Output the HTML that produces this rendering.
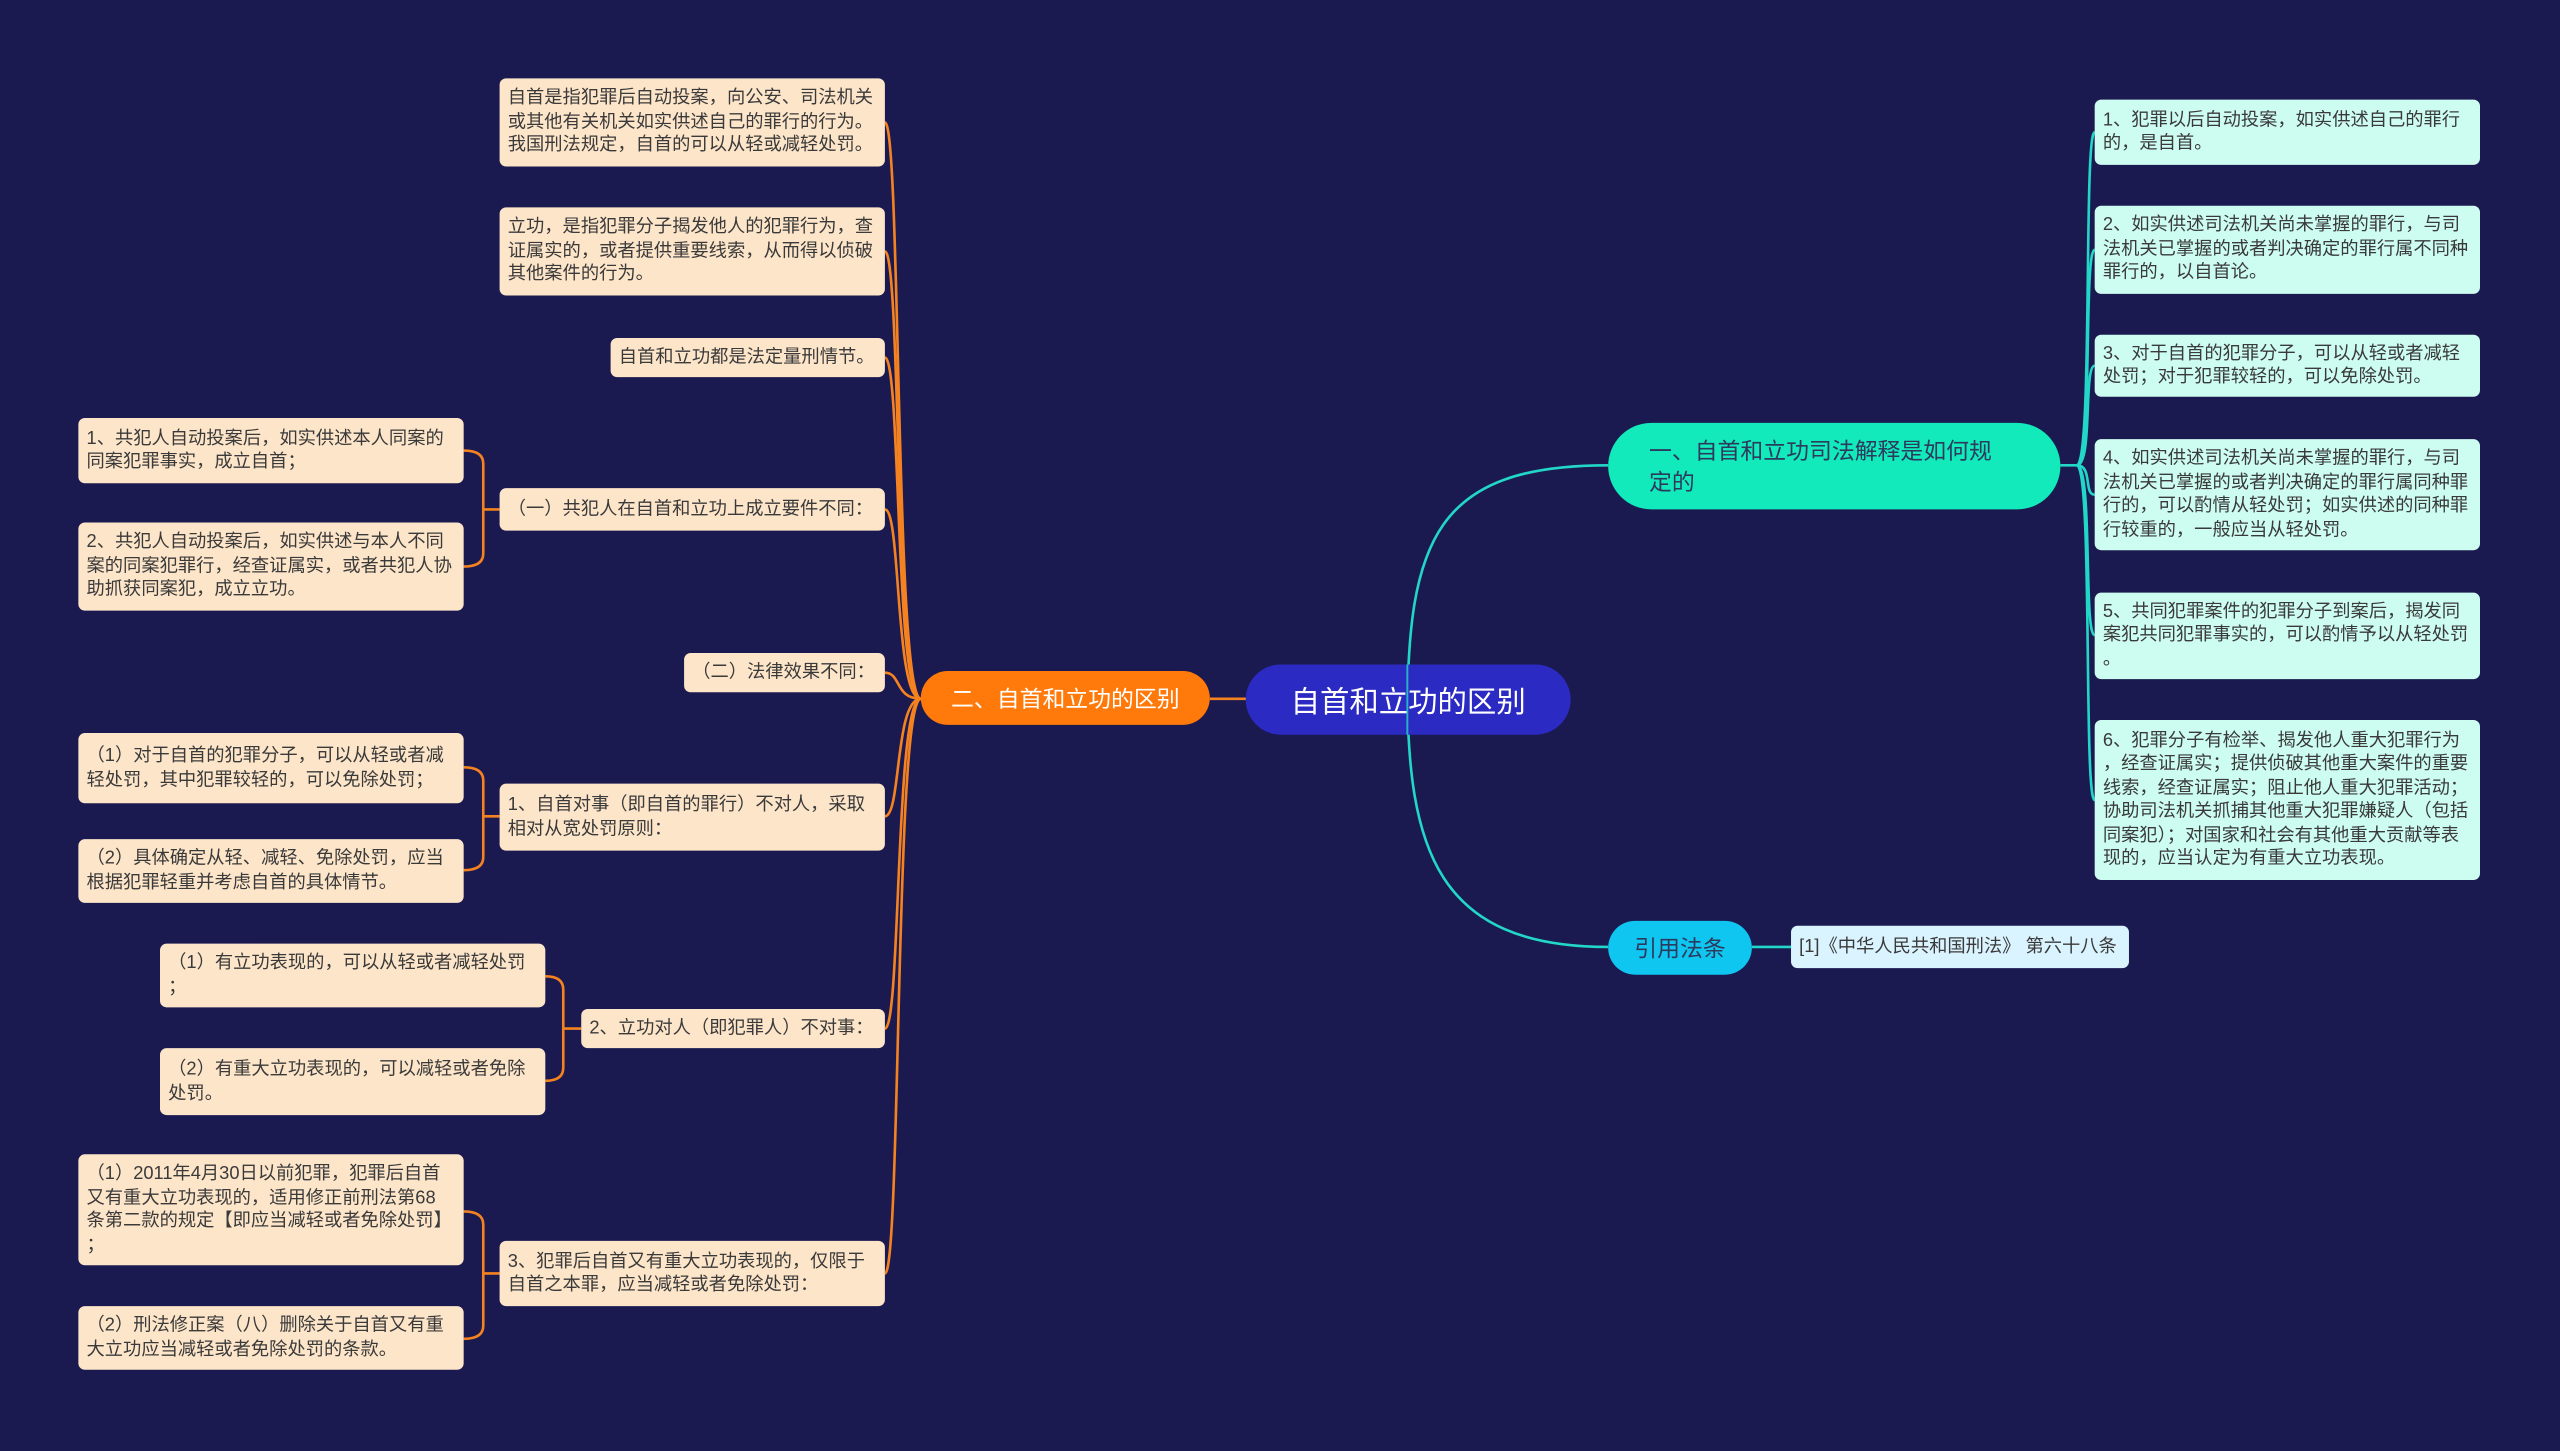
<!DOCTYPE html>
<html><head><meta charset="utf-8">
<style>
html,body{margin:0;padding:0;background:#1b1a50;}
#wrap{position:relative;width:1568px;height:889px;transform:scale(1.63265);transform-origin:0 0;background:#1b1a50;overflow:hidden;font-family:"Liberation Sans","Noto Sans CJK SC",sans-serif;}
.b{position:absolute;box-sizing:border-box;display:flex;align-items:center;border-radius:4px;font-size:11.2px;line-height:14.5px;color:#3a3a3a;padding:0 5px;white-space:nowrap;}
.o{background:#fde5c9;}
.t{background:#cdfdf0;}
.n{position:absolute;box-sizing:border-box;display:flex;align-items:center;white-space:nowrap;}
svg{position:absolute;left:0;top:0;}
</style></head><body><div id="wrap">
<svg width="1568" height="889" fill="none">
<g stroke="#f58220" stroke-width="1.6">
<path d="M764 428 L741 428"/>
<path d="M564 428 C548 428 552 75 542 75"/>
<path d="M564 428 C548 428 552 154 542 154"/>
<path d="M564 428 C548 428 552 219 542 219"/>
<path d="M564 428 C548 428 552 312 542 312"/>
<path d="M564 428 C548 428 552 412 542 412"/>
<path d="M564 428 C548 428 552 500 542 500"/>
<path d="M564 428 C548 428 552 630 542 630"/>
<path d="M564 428 C548 428 552 780 542 780"/>
<path d="M306 312 L296 312 M296 312 L296 284 Q296 276 284 276 M296 312 L296 339 Q296 347 284 347"/>
<path d="M306 500 L296 500 L296 478 Q296 470 284 470 M296 500 L296 525 Q296 533 284 533"/>
<path d="M356 630 L345 630 L345 606 Q345 598 334 598 M345 630 L345 654 Q345 662 334 662"/>
<path d="M306 780 L296 780 L296 750 Q296 742 284 742 M296 780 L296 812 Q296 820 284 820"/>
</g>
<g stroke="#22d6c8" stroke-width="1.6">
<path d="M862 440 C862 330 880 285 985 285"/>
<path d="M862 420 C862 520 880 580 985 580"/>
<path d="M1262 285 L1272 285"/>
<path d="M1272 285 C1282 285 1276 81 1283 81"/>
<path d="M1272 285 C1282 285 1276 153 1283 153"/>
<path d="M1272 285 C1282 285 1276 224 1283 224"/>
<path d="M1272 285 C1282 285 1276 303 1283 303"/>
<path d="M1272 285 C1282 285 1276 389 1283 389"/>
<path d="M1272 285 C1282 285 1276 490 1283 490"/>
<path d="M1073 580 L1097 580"/>
</g>
</svg>

<div class="n" style="left:763px;top:407px;width:199px;height:43px;background:#2b2ac2;border-radius:22px;color:#fff;font-size:18px;justify-content:center;">自首和立功的区别</div>
<div class="n" style="left:564px;top:411px;width:177px;height:33px;background:#ff7a0a;border-radius:17px;color:#fff;font-size:14px;justify-content:center;">二、自首和立功的区别</div>
<div class="n" style="left:985px;top:259px;width:277px;height:53px;background:#12eabb;border-radius:27px;color:#2c3a5e;font-size:14px;line-height:19px;padding-left:25px;">一、自首和立功司法解释是如何规<br>定的</div>
<div class="n" style="left:985px;top:564px;width:88px;height:33px;background:#0fc6f0;border-radius:17px;color:#2c3a5e;font-size:14px;justify-content:center;">引用法条</div>
<svg width="1568" height="889" fill="none" style="pointer-events:none"><path d="M862 407 L862 450" stroke="#22d6c8" stroke-width="1.2" opacity="0.8"/></svg>

<div class="b o" style="left:306px;top:48px;width:236px;height:54px;">自首是指犯罪后自动投案，向公安、司法机关<br>或其他有关机关如实供述自己的罪行的行为。<br>我国刑法规定，自首的可以从轻或减轻处罚。</div>
<div class="b o" style="left:306px;top:127px;width:236px;height:54px;">立功，是指犯罪分子揭发他人的犯罪行为，查<br>证属实的，或者提供重要线索，从而得以侦破<br>其他案件的行为。</div>
<div class="b o" style="left:374px;top:207px;width:168px;height:24px;">自首和立功都是法定量刑情节。</div>
<div class="b o" style="left:306px;top:299px;width:236px;height:26px;">（一）共犯人在自首和立功上成立要件不同：</div>
<div class="b o" style="left:48px;top:256px;width:236px;height:40px;">1、共犯人自动投案后，如实供述本人同案的<br>同案犯罪事实，成立自首；</div>
<div class="b o" style="left:48px;top:320px;width:236px;height:54px;">2、共犯人自动投案后，如实供述与本人不同<br>案的同案犯罪行，经查证属实，或者共犯人协<br>助抓获同案犯，成立立功。</div>
<div class="b o" style="left:419px;top:400px;width:123px;height:24px;">（二）法律效果不同：</div>
<div class="b o" style="left:306px;top:480px;width:236px;height:41px;">1、自首对事（即自首的罪行）不对人，采取<br>相对从宽处罚原则：</div>
<div class="b o" style="left:48px;top:449px;width:236px;height:43px;">（1）对于自首的犯罪分子，可以从轻或者减<br>轻处罚，其中犯罪较轻的，可以免除处罚；</div>
<div class="b o" style="left:48px;top:514px;width:236px;height:39px;">（2）具体确定从轻、减轻、免除处罚，应当<br>根据犯罪轻重并考虑自首的具体情节。</div>
<div class="b o" style="left:356px;top:618px;width:186px;height:24px;">2、立功对人（即犯罪人）不对事：</div>
<div class="b o" style="left:98px;top:578px;width:236px;height:39px;">（1）有立功表现的，可以从轻或者减轻处罚<br>；</div>
<div class="b o" style="left:98px;top:642px;width:236px;height:41px;">（2）有重大立功表现的，可以减轻或者免除<br>处罚。</div>
<div class="b o" style="left:306px;top:760px;width:236px;height:40px;">3、犯罪后自首又有重大立功表现的，仅限于<br>自首之本罪，应当减轻或者免除处罚：</div>
<div class="b o" style="left:48px;top:707px;width:236px;height:68px;">（1）2011年4月30日以前犯罪，犯罪后自首<br>又有重大立功表现的，适用修正前刑法第68<br>条第二款的规定【即应当减轻或者免除处罚】<br>；</div>
<div class="b o" style="left:48px;top:800px;width:236px;height:39px;">（2）刑法修正案（八）删除关于自首又有重<br>大立功应当减轻或者免除处罚的条款。</div>

<div class="b t" style="left:1283px;top:61px;width:236px;height:40px;">1、犯罪以后自动投案，如实供述自己的罪行<br>的，是自首。</div>
<div class="b t" style="left:1283px;top:126px;width:236px;height:54px;">2、如实供述司法机关尚未掌握的罪行，与司<br>法机关已掌握的或者判决确定的罪行属不同种<br>罪行的，以自首论。</div>
<div class="b t" style="left:1283px;top:205px;width:236px;height:38px;">3、对于自首的犯罪分子，可以从轻或者减轻<br>处罚；对于犯罪较轻的，可以免除处罚。</div>
<div class="b t" style="left:1283px;top:269px;width:236px;height:68px;">4、如实供述司法机关尚未掌握的罪行，与司<br>法机关已掌握的或者判决确定的罪行属同种罪<br>行的，可以酌情从轻处罚；如实供述的同种罪<br>行较重的，一般应当从轻处罚。</div>
<div class="b t" style="left:1283px;top:363px;width:236px;height:53px;">5、共同犯罪案件的犯罪分子到案后，揭发同<br>案犯共同犯罪事实的，可以酌情予以从轻处罚<br>。</div>
<div class="b t" style="left:1283px;top:441px;width:236px;height:98px;">6、犯罪分子有检举、揭发他人重大犯罪行为<br>，经查证属实；提供侦破其他重大案件的重要<br>线索，经查证属实；阻止他人重大犯罪活动；<br>协助司法机关抓捕其他重大犯罪嫌疑人（包括<br>同案犯）；对国家和社会有其他重大贡献等表<br>现的，应当认定为有重大立功表现。</div>
<div class="b" style="left:1097px;top:567px;width:207px;height:26px;background:#d9f3ff;">[1]《中华人民共和国刑法》 第六十八条</div>
</div></body></html>
